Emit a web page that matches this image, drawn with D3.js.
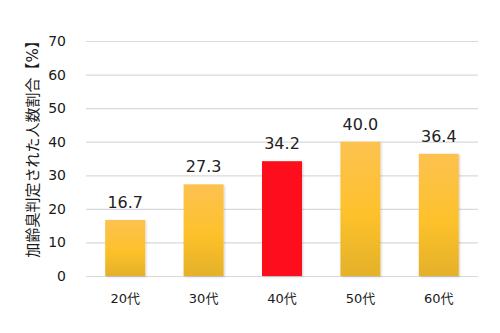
<!DOCTYPE html>
<html>
<head>
<meta charset="utf-8">
<script src="https://cdn.jsdelivr.net/npm/d3@7/dist/d3.min.js"></script>
<style>
  html, body { margin: 0; padding: 0; background: #fff; }
  text { font-family: "DejaVu Sans", "Noto Sans CJK JP", sans-serif; }
</style>
</head>
<body>
<svg id="chart" width="500" height="333"></svg>
<script>
// Age groups and share of people judged to have age-related odour (%)
const categories = ["20代", "30代", "40代", "50代", "60代"];
const values = [16.7, 27.3, 34.2, 40.0, 36.4];
const highlighted = ["40代"];
const yTicks = [0, 10, 20, 30, 40, 50, 60, 70];
const yTitle = "加齢臭判定された人数割合【%】";

const svg = d3.select("#chart");
const margin = { left: 86, right: 22, top: 41, bottom: 57 };
const W = 500, H = 333;

const x = d3.scaleBand()
  .domain(categories)
  .range([margin.left, W - margin.right])
  .paddingInner(0.49)
  .paddingOuter(0.245);

const y = d3.scaleLinear()
  .domain([0, 70])
  .range([H - margin.bottom, margin.top]);

// bar fill gradient
const defs = svg.append("defs");
const grad = defs.append("linearGradient")
  .attr("id", "barGrad").attr("x1", 0).attr("y1", 0).attr("x2", 0).attr("y2", 1);
grad.append("stop").attr("offset", "0%").attr("stop-color", "#fdc24f");
grad.append("stop").attr("offset", "55%").attr("stop-color", "#fdc12c");
grad.append("stop").attr("offset", "100%").attr("stop-color", "#e4b12a");

const shadow = defs.append("filter").attr("id", "shadow")
  .attr("x", "-10%").attr("y", "-10%").attr("width", "130%").attr("height", "130%");
shadow.append("feDropShadow").attr("dx", 1).attr("dy", 1)
  .attr("stdDeviation", 1).attr("flood-color", "#000").attr("flood-opacity", 0.18);

// horizontal gridlines
const yAxis = d3.axisLeft(y).tickValues(yTicks)
  .tickSize(-(W - margin.left - margin.right)).tickPadding(20);
const gy = svg.append("g").attr("transform", `translate(${margin.left},0)`).call(yAxis);
gy.select(".domain").remove();
gy.selectAll(".tick line").attr("stroke", "#d9d9d9").attr("stroke-width", 1.2);
gy.selectAll(".tick text").attr("font-size", 14).attr("fill", "#1a1a1a");

// bars
svg.append("g").selectAll("rect")
  .data(categories)
  .join("rect")
  .attr("x", d => x(d))
  .attr("width", x.bandwidth())
  .attr("y", (d, i) => y(values[i]))
  .attr("height", (d, i) => y(0) - y(values[i]))
  .attr("fill", d => highlighted.includes(d) ? "#fe0d1d" : "url(#barGrad)")
  .attr("filter", "url(#shadow)");

// value labels
svg.append("g").selectAll("text")
  .data(categories)
  .join("text")
  .attr("x", d => x(d) + x.bandwidth() / 2)
  .attr("y", (d, i) => y(values[i]) - 12)
  .attr("text-anchor", "middle")
  .attr("font-size", 16)
  .attr("fill", "#222")
  .text((d, i) => values[i].toFixed(1));

// category axis
const xAxis = d3.axisBottom(x).tickSize(0).tickPadding(18);
const gx = svg.append("g").attr("transform", `translate(0,${y(0)})`).call(xAxis);
gx.select(".domain").remove();
gx.selectAll(".tick text").attr("font-size", 13).attr("fill", "#1a1a1a");

// y-axis title
svg.append("text")
  .attr("transform", `translate(33,${(38 + 253) / 2}) rotate(-90)`)
  .attr("text-anchor", "middle")
  .attr("dominant-baseline", "central")
  .attr("font-size", 15)
  .attr("fill", "#1a1a1a")
  .text(yTitle);
</script>
</body>
</html>
